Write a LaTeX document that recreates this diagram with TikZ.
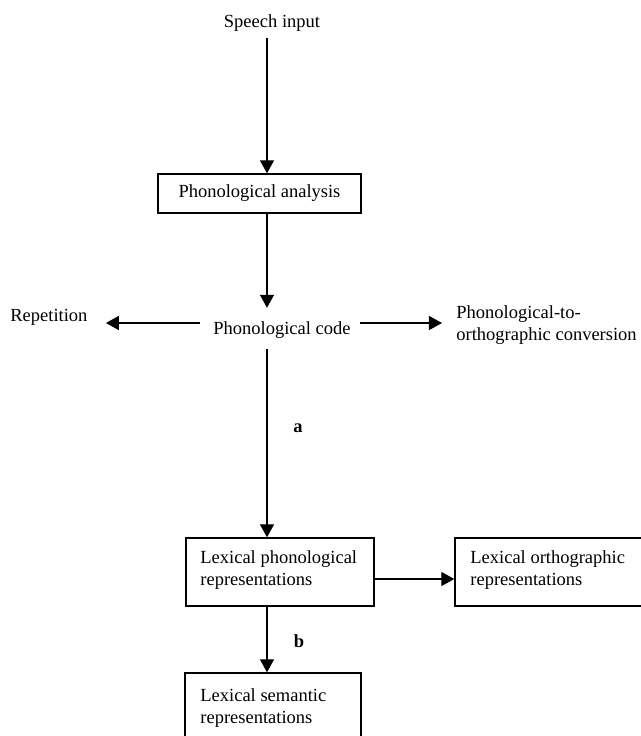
\documentclass[tikz,border=0pt]{standalone}
\usepackage{fontspec}
\setmainfont{Liberation Serif}
\usetikzlibrary{arrows.meta,calc}
\begin{document}
\begin{tikzpicture}[x=0.5pt,y=-0.5pt,
  every node/.style={font=\fontsize{9.25pt}{11pt}\selectfont, inner sep=0pt},
  boxnode/.style={draw, line width=0.7pt, rectangle},
  txt/.style={align=left, anchor=base west},
  arr/.style={line width=0.65pt, -{Triangle[length=6.5pt,width=7pt]}}]
\useasboundingbox (0,0) rectangle (641,736);
\clip (0,0) rectangle (641,736);
% helper coordinates
\coordinate (ax) at (267,0);
\coordinate (hy) at (0,323);
% text labels
\node[anchor=base] (speech) at (272,27) {Speech input};
\node[boxnode, minimum width=101.5pt, minimum height=19.5pt] (pa) at (259.5,193.5) {Phonological analysis};
\node[txt] (rep) at (10,321) {Repetition};
\node[txt] (code) at (213,334) {Phonological code};
\node[txt] (p2o) at (456,340) {Phonological-to-\\orthographic conversion};
\node[anchor=base] (la) at (298,432) {\textbf{a}};
\node[anchor=base] (lb) at (299,647) {\textbf{b}};
% boxes
\node[boxnode, minimum width=94pt, minimum height=34pt] (lp) at (280,572) {};
\node[boxnode, minimum width=102.5pt, minimum height=34pt] (lo) at (557.5,572) {};
\node[boxnode, minimum width=88pt, minimum height=34pt] (ls) at (273,707) {};
\node[txt] (lpt) at (200,585) {Lexical phonological\\representations};
\node[txt] (lot) at (470,585) {Lexical orthographic\\representations};
\node[txt] (lst) at (200,723) {Lexical semantic\\representations};
% connectors
\draw[arr, shorten <=3.5pt] (ax |- speech.south) -- (ax |- pa.north);
\draw[arr, shorten >=6.5pt] (ax |- pa.south) -- (ax |- code.north);
\draw[arr, shorten <=6.5pt, shorten >=9pt] (code.west |- hy) -- (rep.east |- hy);
\draw[arr, shorten <=4.5pt, shorten >=7pt] (code.east |- hy) -- (p2o.west |- hy);
\draw[arr, shorten <=5.5pt] (ax |- code.south) -- (ax |- lp.north);
\draw[arr] ([yshift=-3.5pt]lp.east) -- ([yshift=-3.5pt]lp.east -| lo.west);
\draw[arr] (ax |- lp.south) -- (ax |- ls.north);
\end{tikzpicture}
\end{document}
